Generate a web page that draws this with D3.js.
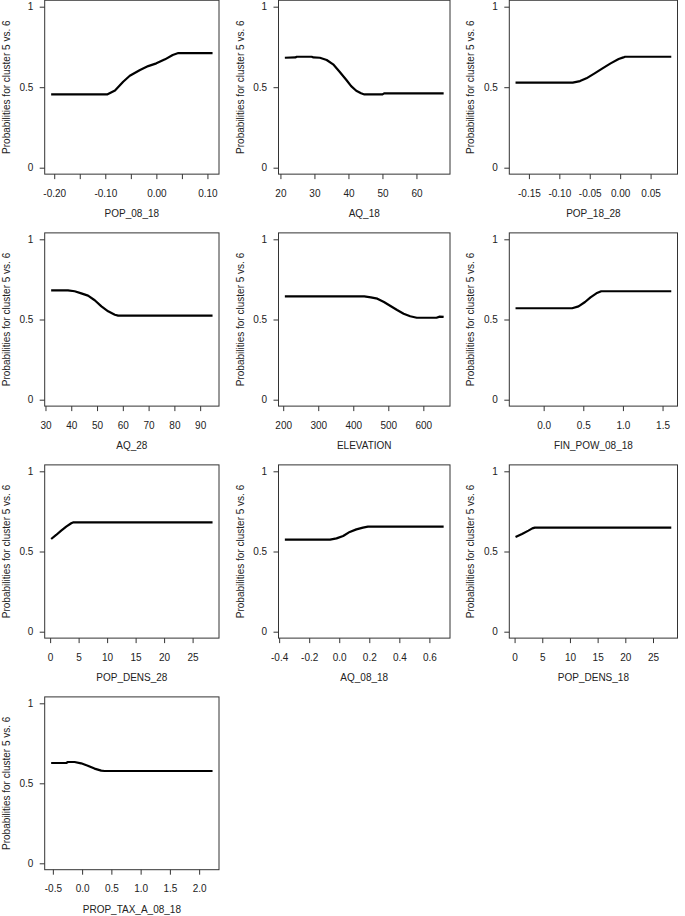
<!DOCTYPE html>
<html>
<head>
<meta charset="utf-8">
<script src="https://cdn.jsdelivr.net/npm/d3@7"></script>
<style>
  body { margin: 0; background: #fff; }
  svg { display: block; }
  text { font-family: "Liberation Sans", Arial, sans-serif; font-size: 10px; fill: #222; }
</style>
</head>
<body>
<svg id="chart" width="685" height="916"></svg>
<script>
const yTitle = "Probabilities for cluster 5 vs. 6";
const varNames = ["POP_08_18", "AQ_18", "POP_18_28", "AQ_28", "ELEVATION",
  "FIN_POW_08_18", "POP_DENS_28", "AQ_08_18", "POP_DENS_18", "PROP_TAX_A_08_18"];

const pop0818X = [-0.206, -0.0965, -0.081, -0.065, -0.052, -0.032, -0.016, 0.0, 0.017, 0.032, 0.043, 0.110];
const pop0818Y = [0.455, 0.455, 0.480, 0.534, 0.571, 0.607, 0.631, 0.648, 0.673, 0.700, 0.712, 0.712];

const aq18X = [21.3, 24.4, 24.8, 29.2, 29.7, 31.6, 33.6, 35.5, 37.4, 39.4, 40.8, 42.3, 43.7, 44.7, 50.0, 50.5, 68.0];
const aq18Y = [0.683, 0.685, 0.689, 0.689, 0.685, 0.683, 0.669, 0.642, 0.596, 0.545, 0.507, 0.478, 0.462, 0.455, 0.455, 0.462, 0.462];

const pop1828X = [-0.172, -0.078, -0.066, -0.0555, -0.042, -0.029, -0.0157, -0.0025, 0.0053, 0.008, 0.084];
const pop1828Y = [0.528, 0.528, 0.538, 0.555, 0.586, 0.617, 0.648, 0.675, 0.685, 0.689, 0.689];

const aq28X = [32.2, 38.7, 41.3, 43.9, 46.5, 49.1, 51.7, 54.3, 56.9, 58.2, 94.8];
const aq28Y = [0.682, 0.682, 0.676, 0.663, 0.649, 0.620, 0.582, 0.551, 0.530, 0.524, 0.524];

const elevX = [204.7, 431.4, 450.1, 468.8, 487.6, 506.3, 525.1, 543.8, 562.5, 581.3, 637.5, 646.9, 658];
const elevY = [0.644, 0.644, 0.638, 0.630, 0.609, 0.584, 0.559, 0.536, 0.520, 0.511, 0.511, 0.518, 0.516];

const finPowX = [-0.355, 0.359, 0.440, 0.522, 0.591, 0.665, 0.726, 1.610];
const finPowY = [0.570, 0.570, 0.582, 0.609, 0.638, 0.663, 0.676, 0.676];

const dens28X = [0.18, 1.06, 1.94, 2.82, 3.70, 4.11, 28.5];
const dens28Y = [0.578, 0.603, 0.630, 0.655, 0.676, 0.682, 0.682];

const aq0818X = [-0.362, -0.061, -0.018, 0.026, 0.070, 0.114, 0.158, 0.191, 0.695];
const aq0818Y = [0.574, 0.574, 0.582, 0.597, 0.622, 0.638, 0.649, 0.655, 0.655];

const dens18X = [0.17, 1.34, 2.50, 3.2, 3.66, 28.3];
const dens18Y = [0.590, 0.609, 0.630, 0.644, 0.649, 0.649];

const taxX = [-0.529, -0.271, -0.243, -0.129, -0.017, 0.097, 0.212, 0.326, 0.383, 2.229];
const taxY = [0.627, 0.627, 0.633, 0.633, 0.625, 0.610, 0.592, 0.579, 0.577, 0.577];

const xTicks = [
  [-0.2, -0.15, -0.1, -0.05, 0, 0.05, 0.1],
  [20, 30, 40, 50, 60],
  [-0.15, -0.1, -0.05, 0, 0.05],
  [30, 40, 50, 60, 70, 80, 90],
  [200, 300, 400, 500, 600],
  [0, 0.5, 1, 1.5],
  [0, 5, 10, 15, 20, 25],
  [-0.4, -0.2, 0, 0.2, 0.4, 0.6],
  [0, 5, 10, 15, 20, 25],
  [-0.5, 0, 0.5, 1, 1.5, 2]
];
const xTickLabels = [
  ["-0.20", "", "-0.10", "", "0.00", "", "0.10"],
  ["20", "30", "40", "50", "60"],
  ["-0.15", "-0.10", "-0.05", "0.00", "0.05"],
  ["30", "40", "50", "60", "70", "80", "90"],
  ["200", "300", "400", "500", "600"],
  ["0.0", "0.5", "1.0", "1.5"],
  ["0", "5", "10", "15", "20", "25"],
  ["-0.4", "-0.2", "0.0", "0.2", "0.4", "0.6"],
  ["0", "5", "10", "15", "20", "25"],
  ["-0.5", "0.0", "0.5", "1.0", "1.5", "2.0"]
];
const yTicks = [0, 0.5, 1];
const yTickLabels = ["0", "0.5", "1"];

const curves = [
  [pop0818X, pop0818Y], [aq18X, aq18Y], [pop1828X, pop1828Y], [aq28X, aq28Y],
  [elevX, elevY], [finPowX, finPowY], [dens28X, dens28Y], [aq0818X, aq0818Y],
  [dens18X, dens18Y], [taxX, taxY]
];

// panel frames: x edges per column, y of value 1 / value 0 per row
const colX = [[44.7, 219], [278.5, 450], [509.3, 677.5]];
const rowY = [[6.7, 167.7], [239.3, 399.7], [471.3, 631.7], [703.3, 863.3]];

const svg = d3.select("#chart");

curves.forEach(([xs, ys], i) => {
  const col = i % 3, row = Math.floor(i / 3);
  const [x0, x1] = colX[col];
  const y = d3.scaleLinear().domain([0, 1]).range([rowY[row][1], rowY[row][0]]);
  const top = y(1.04), bottom = y(-0.04);

  const ext = d3.extent(xs);
  const pad = (ext[1] - ext[0]) * 0.04;
  const x = d3.scaleLinear().domain([ext[0] - pad, ext[1] + pad]).range([x0, x1]);

  const g = svg.append("g");

  const xa = g.append("g")
    .attr("transform", `translate(0,${bottom})`)
    .call(d3.axisBottom(x)
      .tickValues(xTicks[i])
      .tickFormat((d, k) => xTickLabels[i][k])
      .tickSize(5)
      .tickPadding(10.5));
  xa.select(".domain").remove();
  xa.selectAll("line").attr("stroke", "#333");
  xa.selectAll("text").attr("fill", "#222").style("font-size", "10px")
    .style("font-family", "\"Liberation Sans\", Arial, sans-serif");

  const ya = g.append("g")
    .attr("transform", `translate(${x0},0)`)
    .call(d3.axisLeft(y)
      .tickValues(yTicks)
      .tickFormat((d, k) => yTickLabels[k])
      .tickSize(5)
      .tickPadding(6.4));
  ya.select(".domain").remove();
  ya.selectAll("line").attr("stroke", "#333");
  ya.selectAll("text").attr("fill", "#222").style("font-size", "10px")
    .style("font-family", "\"Liberation Sans\", Arial, sans-serif");

  g.append("rect")
    .attr("x", x0).attr("y", top)
    .attr("width", x1 - x0).attr("height", bottom - top)
    .attr("fill", "none").attr("stroke", "#333").attr("stroke-width", 1);

  const line = d3.line()
    .x(d => x(d[0]))
    .y(d => y(d[1]));

  g.append("path")
    .datum(xs.map((v, k) => [v, ys[k]]))
    .attr("d", line)
    .attr("fill", "none")
    .attr("stroke", "#000")
    .attr("stroke-width", 2.2)
    .attr("stroke-linejoin", "round");

  g.append("text")
    .attr("x", (x0 + x1) / 2)
    .attr("y", bottom + 43)
    .attr("text-anchor", "middle")
    .text(varNames[i]);

  g.append("text")
    .attr("transform", `translate(${x0 - 35},${(top + bottom) / 2}) rotate(-90)`)
    .attr("text-anchor", "middle")
    .text(yTitle);
});
</script>
</body>
</html>
